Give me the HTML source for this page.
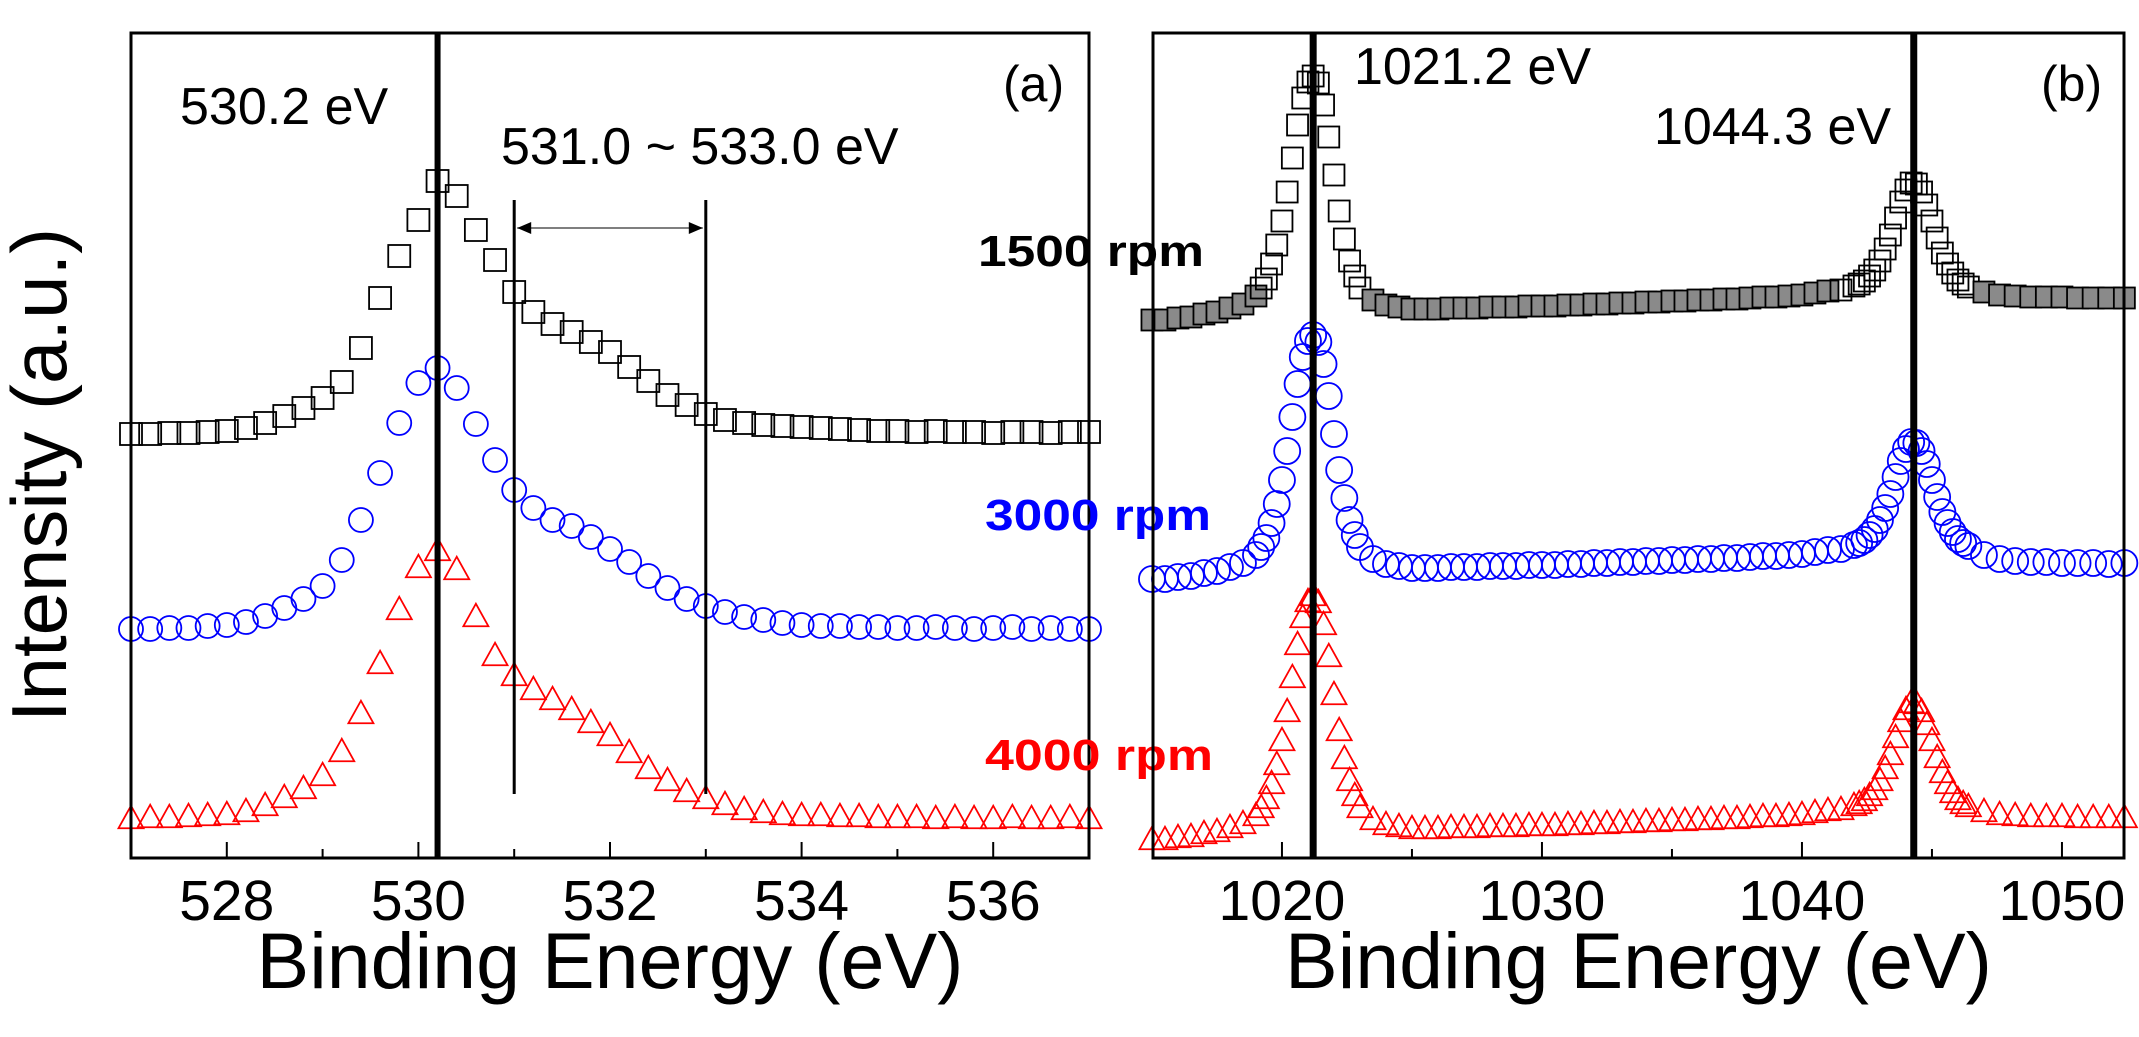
<!DOCTYPE html>
<html><head><meta charset="utf-8"><style>
html,body{margin:0;padding:0;background:#fff;}
svg{display:block;font-family:"Liberation Sans",Arial,sans-serif;}
</style></head><body>
<svg id="fig" width="2139" height="1037" viewBox="0 0 2139 1037" xmlns="http://www.w3.org/2000/svg">
<g id="pa"></g>
<g id="pb"></g>
</svg>
<script>
// ---------- Panel (a) data ----------
const energyA = [];
for (let i = 0; i <= 50; i++) energyA.push(527 + i * 0.2);
const a1500 = [424,424,425,425,426,427,430,435,442,450,460,476,510,560,602,638,677,662,628,598,566,546,534,526,516,506,491,477,463,453,444,438,435,433,432,431,430,429,428,427,427,426,427,426,426,425,426,426,425,426,426];
const a3000 = [229,229,230,230,232,233,236,242,250,259,272,298,338,385,435,475,490,470,434,398,368,350,338,332,321,309,296,282,270,259,252,246,241,238,235,233,232,232,231,231,230,230,231,230,229,230,231,229,230,229,229];
const a4000 = [41,42,42,43,44,45,48,54,62,71,84,108,146,196,250,292,309,290,243,204,184,170,160,150,137,124,107,91,79,68,61,55,50,47,45,44,44,43,43,42,42,42,41,42,41,41,42,41,41,42,41];
const ticksA = [528,530,532,534,536];
const minorA = [529,531,533,535];
const refLinesA = [530.2];
const rangeLinesA = [531.0, 533.0];

// ---------- Panel (b) data ----------
const energyB = [1015,1015.5,1016,1016.5,1017,1017.5,1018,1018.5,1019,
 1019.2,1019.4,1019.6,1019.8,1020,1020.2,1020.4,1020.6,1020.8,1021,1021.2,1021.4,1021.6,1021.8,1022,1022.2,1022.4,1022.6,1022.8,1023,
 1023.5,1024,1024.5,1025,1025.5,1026,1026.5,1027,1027.5,1028,1028.5,1029,1029.5,1030,1030.5,1031,1031.5,1032,1032.5,1033,1033.5,1034,1034.5,1035,1035.5,1036,1036.5,1037,1037.5,1038,1038.5,1039,1039.5,1040,1040.5,1041,1041.5,1042,
 1042.2,1042.4,1042.6,1042.8,1043,1043.2,1043.4,1043.6,1043.8,1044,1044.2,1044.4,1044.6,1044.8,1045,1045.2,1045.4,1045.6,1045.8,1046,1046.2,1046.4,
 1047,1047.6,1048.2,1048.8,1049.4,1050,1050.6,1051.2,1051.8,1052.4];
const b1500 = [538,538,540,541,544,546,550,554,562,
 570,579,594,613,637,666,700,733,760,776,782,775,753,721,683,647,619,597,582,570,
 558,553,551,549,549,549,550,550,550,551,551,551,552,552,552,553,553,554,554,555,555,556,556,557,557,558,558,559,559,560,561,561,562,563,565,567,568,572,
 574,577,582,588,597,609,623,640,656,668,675,674,666,653,637,620,605,594,585,578,574,571,
 566,563,562,561,561,561,560,560,560,560];
const b3000 = [279,279,281,282,285,287,291,295,303,
 311,320,335,354,378,407,441,474,501,517,523,516,494,462,424,388,360,338,323,311,
 299,294,292,290,290,290,291,291,291,292,292,292,293,293,293,294,294,295,295,296,296,297,297,298,298,299,299,300,300,301,302,302,303,304,306,308,309,313,
 315,318,323,329,338,350,364,381,397,409,416,415,407,394,378,361,346,335,326,319,315,312,
 303,299,297,296,296,295,295,295,294,295];
const b4000 = [20,20,22,23,26,28,32,36,44,
 52,61,76,95,119,148,182,215,242,258,264,257,235,203,165,129,101,79,64,52,
 40,35,33,31,31,31,32,32,32,33,33,33,34,34,34,35,35,36,36,37,37,38,38,39,39,40,40,41,41,42,43,43,44,45,47,49,50,54,
 56,59,64,70,79,91,105,122,138,150,157,156,148,135,119,102,87,76,67,60,56,53,
 48,45,44,43,43,43,42,42,42,42];
const ticksB = [1020,1030,1040,1050];
const minorB = [1025,1035,1045];
const refLinesB = [1021.2, 1044.3];

const NS = "http://www.w3.org/2000/svg";
function mk(parent, tag, attrs, text){
  const e = document.createElementNS(NS, tag);
  for (const k in attrs) e.setAttribute(k, attrs[k]);
  if (text !== undefined) e.textContent = text;
  parent.appendChild(e);
  return e;
}
const TOP = 33, BOT = 858;
function yScale(v){ return BOT - v; } // intensity a.u. 0..825
function xA(e){ return 131 + (e - 527) * (1089 - 131) / 10; }
function xB(e){ return 1153 + (e - 1015.04) * 26; }

function marker(g, type, cx, cy, color, s, fill){
  let el;
  if (type === 'square') {
    el = mk(g, 'rect', {x: cx - s/2, y: cy - s/2, width: s, height: s, fill: fill || 'none', stroke: color, 'stroke-width': 1.8});
  } else if (type === 'circle') {
    el = mk(g, 'circle', {cx: cx, cy: cy, r: s/2, fill: 'none', stroke: color, 'stroke-width': 1.8});
  } else {
    const h = s * 0.9;
    el = mk(g, 'polygon', {points: `${cx},${cy - h/2} ${cx - s/2},${cy + h/2} ${cx + s/2},${cy + h/2}`, fill: 'none', stroke: color, 'stroke-width': 1.8});
  }
  
  
}

function series(g, xs, ys, xf, type, color, s, name, grayFill){
  const sg = mk(g, 'g', {});
  
  
  const mn = Math.min(...ys);
  for (let i = 0; i < xs.length; i++) {
    const fill = grayFill && (ys[i] - mn) < 30 ? '#8a8a8a' : 'none';
    marker(sg, type, xf(xs[i]), yScale(ys[i]), color, s, fill);
  }
}

function frame(g, x0, x1, ticks, minor, xf, title){
  const tg = mk(g, 'g', {});
  
  
  ticks.forEach(t => {
    const x = xf(t);
    const l = mk(tg, 'line', {x1: x, x2: x, y1: BOT, y2: BOT - 16, stroke: '#000', 'stroke-width': 2});
    
    
    const tx = mk(tg, 'text', {x: x, y: 920, 'font-size': 57, 'text-anchor': 'middle', fill: '#000'}, String(t));
    
    
  });
  minor.forEach(t => {
    const x = xf(t);
    const l = mk(tg, 'line', {x1: x, x2: x, y1: BOT, y2: BOT - 9, stroke: '#000', 'stroke-width': 2});
    
    
  });
  const r = mk(g, 'rect', {x: x0, y: TOP, width: x1 - x0, height: BOT - TOP, fill: 'none', stroke: '#000', 'stroke-width': 3});
  
  
  const tt = mk(g, 'text', {x: (x0 + x1) / 2, y: 988, 'font-size': 79, 'text-anchor': 'middle', fill: '#000'}, title);
  
  
}

function vline(g, x, y1, y2, w, name){
  const l = mk(g, 'line', {x1: x, x2: x, y1: y1, y2: y2, stroke: '#000', 'stroke-width': w});
  
  
}
function label(g, x, y, size, txt, name, color, weight, len){
  const a = {x: x, y: y, 'font-size': size, fill: color || '#000'};
  if (weight) a['font-weight'] = weight;
  if (len) { a.textLength = len; a.lengthAdjust = 'spacingAndGlyphs'; }
  const t = mk(g, 'text', a, txt);
  
  
}

// ----- Panel A -----
const pa = document.getElementById('pa');
series(pa, energyA, a1500, xA, 'square', '#000', 22, 'series-1500rpm-a', false);
series(pa, energyA, a3000, xA, 'circle', '#0000ff', 24, 'series-3000rpm-a', false);
series(pa, energyA, a4000, xA, 'triangle', '#ff0000', 25, 'series-4000rpm-a', false);
refLinesA.forEach(e => vline(pa, xA(e), TOP, BOT, 6, 'peak-line-530-2'));
rangeLinesA.forEach(e => vline(pa, xA(e), 200, 794, 3, 'range-line'));
{
  const y = 228, xa = xA(rangeLinesA[0]) + 3, xb = xA(rangeLinesA[1]) - 3;
  const ar = mk(pa, 'g', {});
  
  
  mk(ar, 'line', {x1: xa, x2: xb, y1: y, y2: y, stroke: '#555', 'stroke-width': 1.5});
  mk(ar, 'polygon', {points: `${xa},${y} ${xa + 14},${y - 6} ${xa + 14},${y + 6}`, fill: '#000'});
  mk(ar, 'polygon', {points: `${xb},${y} ${xb - 14},${y - 6} ${xb - 14},${y + 6}`, fill: '#000'});
}
frame(pa, 131, 1089, ticksA, minorA, xA, 'Binding Energy (eV)');
label(pa, 180, 124, 52, '530.2 eV', 'peak-label-530-2');
label(pa, 501, 164, 52, '531.0 ~ 533.0 eV', 'range-label');
label(pa, 1003, 101, 50, '(a)', 'panel-label-a');
label(pa, 978, 266, 44, '1500 rpm', 'label-1500rpm', '#000', 'bold', 226);
label(pa, 985, 530, 44, '3000 rpm', 'label-3000rpm', '#0000ff', 'bold', 226);
label(pa, 985, 770, 44, '4000 rpm', 'label-4000rpm', '#ff0000', 'bold', 228);
{
  const t = mk(pa, 'text', {x: 0, y: 0, 'font-size': 78, 'text-anchor': 'middle', transform: 'translate(66,475) rotate(-90)', fill: '#000'}, 'Intensity (a.u.)');
  
  
}

// ----- Panel B -----
const pb = document.getElementById('pb');
series(pb, energyB, b1500, xB, 'square', '#000', 21, 'series-1500rpm-b', true);
series(pb, energyB, b3000, xB, 'circle', '#0000ff', 26, 'series-3000rpm-b', false);
series(pb, energyB, b4000, xB, 'triangle', '#ff0000', 25, 'series-4000rpm-b', false);
refLinesB.forEach(e => vline(pb, xB(e), TOP, BOT, 7, 'peak-line'));
frame(pb, 1153, 2124, ticksB, minorB, xB, 'Binding Energy (eV)');
label(pb, 1354, 84, 52, '1021.2 eV', 'peak-label-1021-2');
label(pb, 1654, 144, 52, '1044.3 eV', 'peak-label-1044-3');
label(pb, 2041, 101, 50, '(b)', 'panel-label-b');
</script>
</body></html>
